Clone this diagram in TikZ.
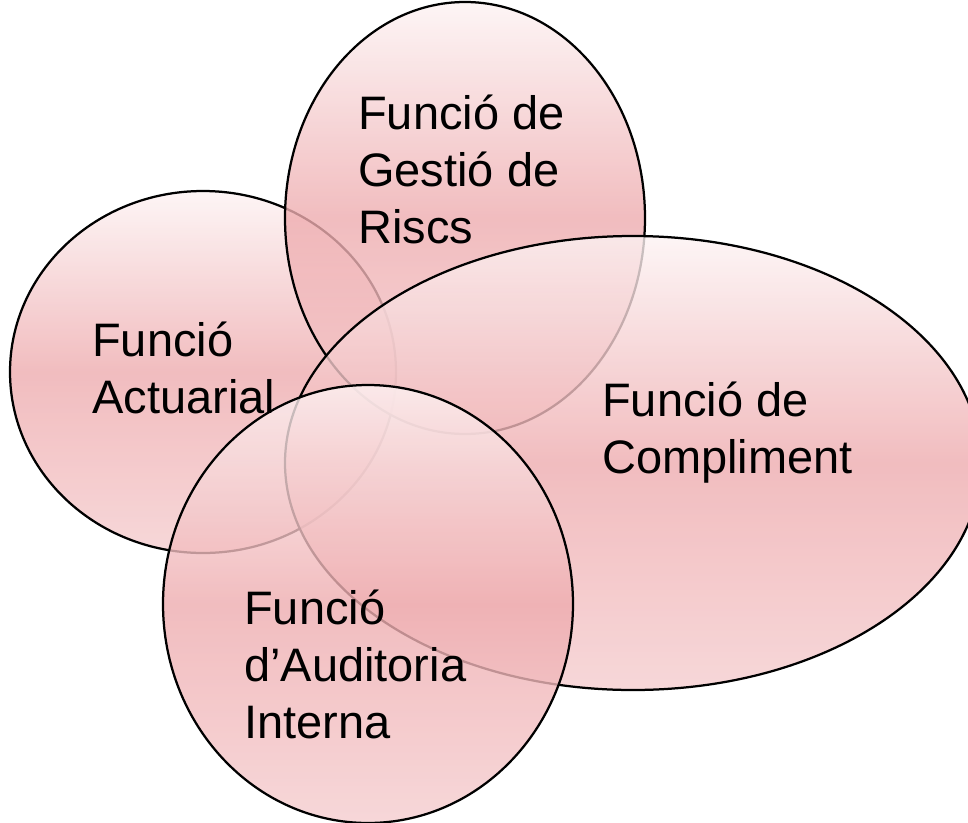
\documentclass[tikz,border=0pt]{standalone}
\usepackage{fontspec}
\setmainfont{Liberation Sans}
\definecolor{rosa}{RGB}{238,172,175}
\begin{document}
\begin{tikzpicture}[x=0.025cm,y=-0.025cm]
\tikzstyle{blob}=[fill opacity=0.8,top color=rosa!15!white,bottom color=rosa!60!white,middle color=rosa]
\tikzstyle{vora}=[line width=1.6pt]
\tikzstyle{txt}=[anchor=base west,align=left,inner sep=0pt,font=\fontsize{33.4}{40.5}\selectfont]
\useasboundingbox (0,0) rectangle (968,823);
% Actuarial
\shade[blob] (203,372) ellipse [x radius=193,y radius=181];
\draw[vora] (203,372) ellipse [x radius=193,y radius=181];
% Gestio de Riscs
\shade[blob] (465,218) ellipse [x radius=180,y radius=216];
\draw[vora] (465,218) ellipse [x radius=180,y radius=216];
% Compliment
\shade[blob] (633,463) ellipse [x radius=348,y radius=227];
\draw[vora] (633,463) ellipse [x radius=348,y radius=227];
% Auditoria Interna
\shade[blob] (368,604) ellipse [x radius=205,y radius=219];
\draw[vora] (368,604) ellipse [x radius=205,y radius=219];

% base = last line
\node[txt] (riscs) at (358,243) {Funció de\\Gestió de\\Riscs};
\node[txt] (actuarial) at (92,413) {Funció\\Actuarial};
\node[txt] (compliment) at (602,473) {Funció de\\Compliment};
\node[txt] (auditoria) at (244,738) {Funció\\d’Auditoria\\Interna};
\end{tikzpicture}
\end{document}
